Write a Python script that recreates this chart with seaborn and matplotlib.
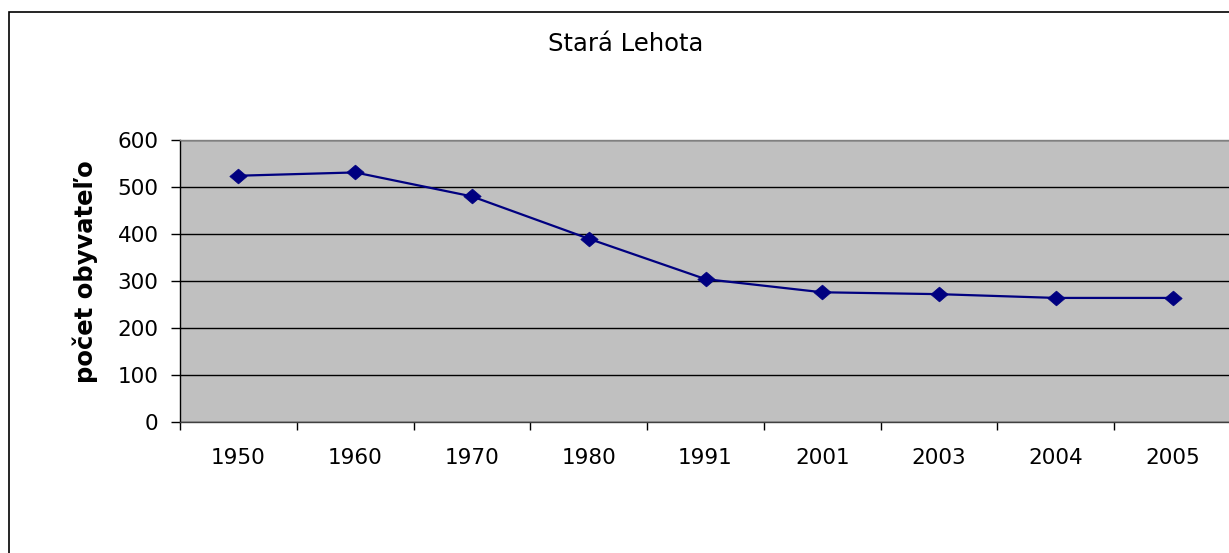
import matplotlib
matplotlib.use("Agg")
import matplotlib.pyplot as plt
import seaborn as sns
import pandas as pd
from matplotlib.patches import Rectangle
from matplotlib.path import Path
from matplotlib.ticker import FixedLocator, NullFormatter, FixedFormatter

years = ["1950", "1960", "1970", "1980", "1991", "2001", "2003", "2004", "2005"]
population = [524, 531, 480, 390, 304, 276, 272, 264, 264]
y_ticks = [0, 100, 200, 300, 400, 500, 600]
title = "Stará Lehota"
y_label = "počet obyvateľo"

df = pd.DataFrame({"year": years, "population": population})

sns.set_theme(style="white")
plt.rcParams["font.family"] = ["DejaVu Sans"]
plt.rcParams["text.color"] = "black"
plt.rcParams["axes.labelcolor"] = "black"
plt.rcParams["xtick.color"] = "black"
plt.rcParams["ytick.color"] = "black"

W, H = 1229, 553
fig = plt.figure(figsize=(W / 100, H / 100), dpi=100)
fig.patch.set_facecolor("white")

left, right, top, bottom = 180, 1231, 140, 422
ax = fig.add_axes([left / W, 1 - bottom / H, (right - left) / W, (bottom - top) / H])
ax.set_facecolor("#c0c0c0")

sns.pointplot(data=df, x="year", y="population", ax=ax, color="#000080",
              markers="D", linestyles="-", errorbar=None,
              markersize=8, linewidth=1.6)
diamond = Path([(-1, 0), (0, 0.85), (1, 0), (0, -0.85), (-1, 0)],
               [Path.MOVETO, Path.LINETO, Path.LINETO, Path.LINETO, Path.CLOSEPOLY])
for line in ax.lines:
    line.set_marker(diamond)
    line.set_markersize(12.5)
    line.set_markeredgewidth(0.5)
    line.set_linewidth(1.6)

ax.set_xlim(-0.5, len(years) - 0.5)
ax.set_ylim(0, 600)
ax.set_yticks(y_ticks)
ax.set_yticklabels([str(v) for v in y_ticks], fontsize=15.5)

ax.xaxis.set_major_locator(FixedLocator([i - 0.5 for i in range(len(years) + 1)]))
ax.xaxis.set_major_formatter(NullFormatter())
ax.xaxis.set_minor_locator(FixedLocator(list(range(len(years)))))
ax.xaxis.set_minor_formatter(FixedFormatter(years))
ax.tick_params(axis="x", which="major", direction="out", length=6, width=1,
               color="black", bottom=True)
ax.tick_params(axis="x", which="minor", length=0, labelsize=15.5, pad=19,
               bottom=True)
ax.tick_params(axis="y", direction="out", length=6.5, width=1, color="black",
               left=True, pad=9)

ax.grid(axis="y", color="black", linewidth=1)
ax.set_axisbelow(True)
ax.set_xlabel("")
ax.set_ylabel(y_label, fontsize=17.5, fontweight="bold")
ax.yaxis.set_label_coords((98 - left) / (right - left), (bottom - 272) / (bottom - top))

for side in ["left", "bottom"]:
    ax.spines[side].set_visible(True)
    ax.spines[side].set_color("black")
    ax.spines[side].set_linewidth(1)
ax.spines["bottom"].set_color("#404040")
ax.spines["top"].set_visible(True)
ax.spines["top"].set_color("#808080")
ax.spines["top"].set_linewidth(1)
ax.spines["right"].set_visible(False)

fig.text(626 / W, 1 - 44 / H, title, ha="center", va="center", fontsize=17.5)

fig.patches.append(Rectangle((9 / W, -0.1), 1.2, 1 - 12 / H + 0.1,
                             transform=fig.transFigure, fill=False,
                             edgecolor="black", linewidth=1.2))

fig.savefig("out.png", dpi=100)
